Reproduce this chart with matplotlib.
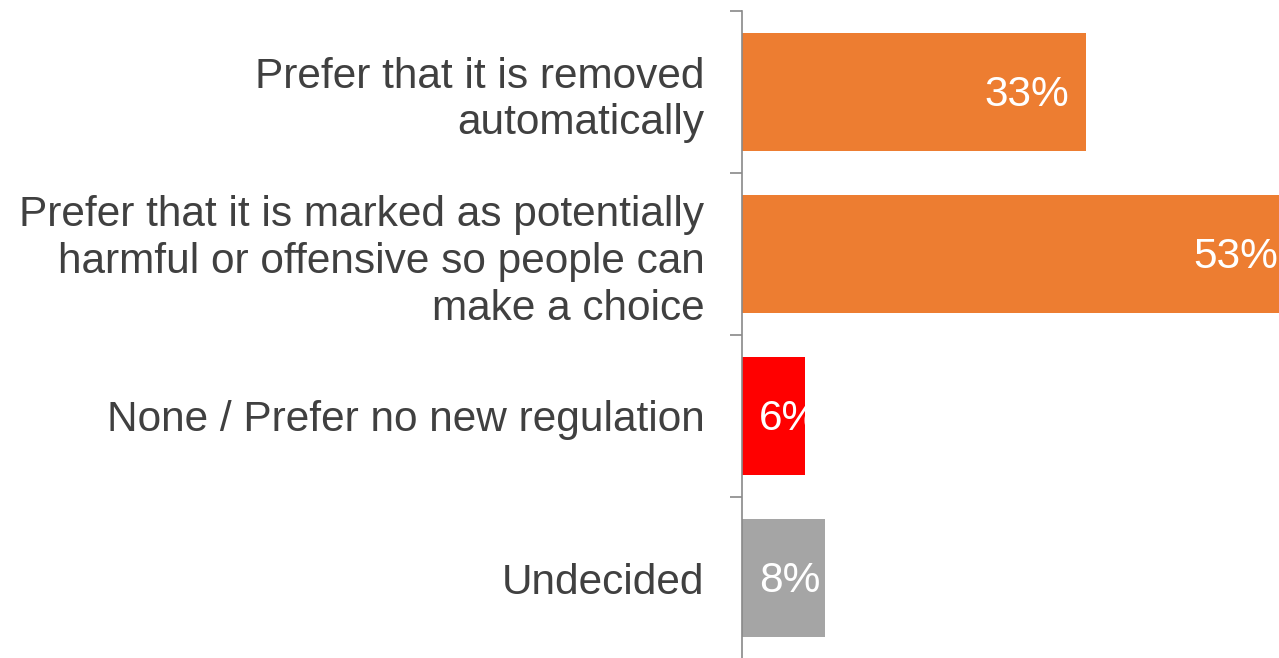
import matplotlib.pyplot as plt
import numpy as np

plt.rcParams["font.family"] = ["Liberation Sans", "DejaVu Sans"]

categories = [
    "Prefer that it is removed\nautomatically",
    "Prefer that it is marked as potentially\nharmful or offensive so people can\nmake a choice",
    "None / Prefer no new regulation",
    "Undecided",
]
values = [33, 53, 6, 8]
colors = ["#ED7D31", "#ED7D31", "#FF0000", "#A5A5A5"]

fig = plt.figure(figsize=(12.79, 6.58), dpi=100)
ax = fig.add_axes([742 / 1279, -1 / 658, 537 / 1279, 648 / 658])

y = np.arange(len(categories))
ax.barh(y, values, height=0.73, color=colors)

# value labels sit inside the bar end; short bars start from the base
for yi, v in zip(y, values):
    if v < 10:
        ax.text(1.6, yi + 0.02, f"{v}%", ha="left", va="center", color="white", fontsize=30.5)
    else:
        ax.text(v - 1.6, yi + 0.02, f"{v}%", ha="right", va="center", color="white", fontsize=30.5)

ax.set_xlim(0, 51.5)
ax.set_ylim(len(categories) - 0.5, -0.5)

ax.set_yticks(y)
ax.set_yticklabels(categories, fontsize=30.5, color="#404040", linespacing=1.22)
ax.tick_params(axis="y", which="major", length=0, pad=27)
ax.set_yticks(np.arange(len(categories) + 1) - 0.5, minor=True)
ax.tick_params(axis="y", which="minor", length=8.6, width=1.2, color="#898989")
ax.set_xticks([])

for side in ["top", "right", "bottom"]:
    ax.spines[side].set_visible(False)
ax.spines["left"].set_color("#898989")
ax.spines["left"].set_linewidth(1.2)

fig.savefig("out.png", dpi=100)
